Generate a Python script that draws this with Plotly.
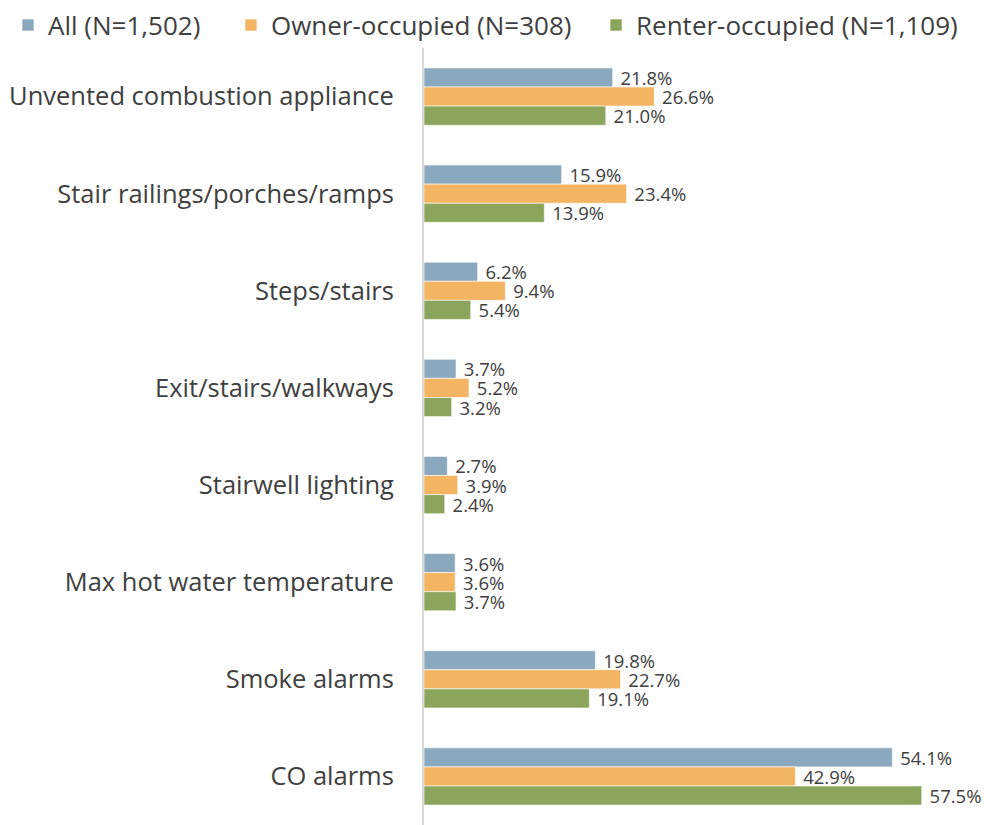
import plotly.graph_objects as go

# --- dados ---
categorias = [
    "Unvented combustion appliance",
    "Stair railings/porches/ramps",
    "Steps/stairs",
    "Exit/stairs/walkways",
    "Stairwell lighting",
    "Max hot water temperature",
    "Smoke alarms",
    "CO alarms",
]
todos = [21.8, 15.9, 6.2, 3.7, 2.7, 3.6, 19.8, 54.1]
proprietarios = [26.6, 23.4, 9.4, 5.2, 3.9, 3.6, 22.7, 42.9]
inquilinos = [21.0, 13.9, 5.4, 3.2, 2.4, 3.7, 19.1, 57.5]

series = [
    ("All (N=1,502)", todos, "#8BA9BE", "legend", 0.0),
    ("Owner-occupied (N=308)", proprietarios, "#F3B562", "legend2", 0.2268),
    ("Renter-occupied (N=1,109)", inquilinos, "#8BA65C", "legend3", 0.5982),
]

fig = go.Figure()

# uma legenda por série, para posicionar cada item como no original
legendas = {}
for nome, valores, cor, leg, pos_x in series:
    fig.add_trace(go.Bar(
        y=categorias, x=valores, name=nome, orientation="h", legend=leg,
        marker=dict(color=cor, line=dict(color="rgba(255,255,255,0.6)", width=1)),
        text=[f"\u00a0{v:.1f}%" for v in valores], textposition="outside",
        textfont=dict(size=18.5, color="#404040", family="Open Sans"),
        cliponaxis=False,
    ))
    legendas[leg] = dict(
        orientation="h", xref="container", yref="container",
        x=pos_x, y=0.979, xanchor="left", yanchor="middle",
        font=dict(size=26, color="#404040"), itemwidth=30,
        bgcolor="rgba(0,0,0,0)",
    )

fig.update_layout(
    width=983, height=817,
    margin=dict(l=416, r=0, t=40, b=0, autoexpand=False),
    barmode="group", bargap=0.41, bargroupgap=0,
    plot_bgcolor="white", paper_bgcolor="white",
    font=dict(family="Open Sans", color="#404040"),
    showlegend=True,
    uniformtext=dict(minsize=18.5, mode="show"),
    **legendas,
)

fig.update_xaxes(range=[0, 65.5], visible=False)
fig.update_yaxes(
    autorange="reversed", showline=True, linecolor="#D9D9D9", linewidth=2,
    ticks="", tickfont=dict(size=25.5, color="#404040"), ticklabelstandoff=23,
    automargin=False,
)

fig.write_html("out.html")
